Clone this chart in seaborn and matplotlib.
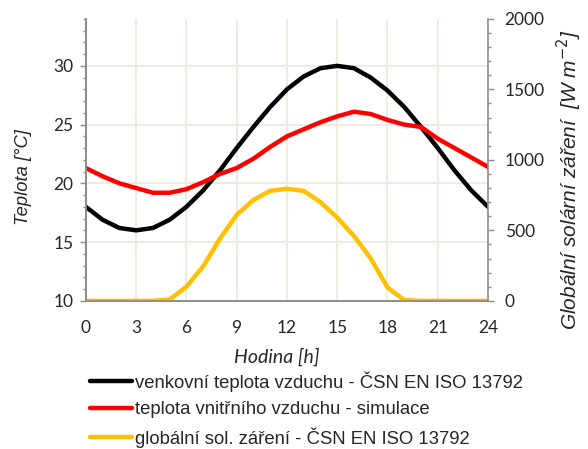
import matplotlib
matplotlib.use("Agg")
import matplotlib.pyplot as plt
from matplotlib.ticker import MultipleLocator
import pandas as pd
import seaborn as sns

# hourly values
hours = list(range(25))
outdoor_temp = [18.0, 16.9, 16.2, 16.0, 16.2, 16.9, 18.0, 19.4, 21.1, 23.0, 24.8, 26.5, 28.0,
                29.1, 29.8, 30.0, 29.8, 29.0, 27.9, 26.5, 24.8, 23.0, 21.1, 19.4, 18.0]
indoor_temp = [21.3, 20.6, 20.0, 19.6, 19.2, 19.2, 19.5, 20.1, 20.8, 21.3, 22.1, 23.1, 24.0,
               24.6, 25.2, 25.7, 26.1, 25.9, 25.4, 25.0, 24.8, 23.8, 23.0, 22.2, 21.4]
solar_rad = [0, 0, 0, 0, 0, 10, 100, 245, 440, 610, 715, 780, 795,
             780, 700, 590, 460, 300, 95, 5, 0, 0, 0, 0, 0]

series_labels = [
    "venkovní teplota vzduchu - ČSN EN ISO 13792",
    "teplota vnitřního vzduchu - simulace",
    "globální sol. záření - ČSN EN ISO 13792",
]
series_colors = ["#000000", "#FF0000", "#FFC000"]

x_ticks = list(range(0, 25, 3))
temp_ticks = [10, 15, 20, 25, 30]
rad_ticks = [0, 500, 1000, 1500, 2000]

df = pd.DataFrame({
    "hodina": hours,
    "venkovni": outdoor_temp,
    "vnitrni": indoor_temp,
    "zareni": solar_rad,
})

sns.set_style("white")
plt.rcParams["font.family"] = ["Liberation Sans", "DejaVu Sans"]

grid_color = "#EEECE1"
spine_color = "#8C8C8C"
text_color = "#262626"

fig = plt.figure(figsize=(5.88, 4.49), dpi=100)
ax = fig.add_axes([0.146, 0.330, 0.684, 0.628])
ax2 = ax.twinx()

line_kw = dict(lw=3.2, legend=False, solid_joinstyle="round", solid_capstyle="round")
sns.lineplot(data=df, x="hodina", y="venkovni", ax=ax, color=series_colors[0], **line_kw)
sns.lineplot(data=df, x="hodina", y="vnitrni", ax=ax, color=series_colors[1], **line_kw)
sns.lineplot(data=df, x="hodina", y="zareni", ax=ax2, color=series_colors[2], **line_kw)

ax.set_xlim(0, 24)
ax.set_ylim(10, 34)
ax2.set_ylim(0, 2000)
ax.set_xticks(x_ticks)
ax.set_yticks(temp_ticks)
ax2.set_yticks(rad_ticks)
ax.yaxis.set_minor_locator(MultipleLocator(1))
ax2.yaxis.set_minor_locator(MultipleLocator(100))

ax.grid(True, color=grid_color, lw=1.5)
ax.set_axisbelow(True)
ax2.grid(False)

for a in (ax, ax2):
    a.spines["top"].set_visible(False)
    for s in ("left", "right", "bottom"):
        a.spines[s].set_color(spine_color)
        a.spines[s].set_linewidth(1.2)
ax.spines["right"].set_visible(False)

ax.tick_params(axis="both", which="major", direction="out", length=4, width=1,
               color=spine_color, labelcolor=text_color)
ax.tick_params(axis="y", which="minor", direction="out", length=2.5, width=1, color=spine_color, left=True)
ax.tick_params(axis="x", pad=10)
ax.tick_params(axis="y", pad=5)
ax2.tick_params(axis="y", which="major", direction="out", length=4, width=1,
                color=spine_color, labelcolor=text_color, pad=8)
ax2.tick_params(axis="y", which="minor", direction="out", length=2.5, width=1, color=spine_color, right=True)
for lab in ax.get_xticklabels() + ax.get_yticklabels() + ax2.get_yticklabels():
    lab.set_fontfamily("Lato")
    lab.set_fontsize(12.5)

ax.set_xlabel("Hodina [h]", fontstyle="italic", fontsize=14, color=text_color, family="Lato")
ax.xaxis.set_label_coords(0.475, -0.165)
ax.set_ylabel("Teplota [°C]", fontstyle="italic", fontsize=13.2, color=text_color)
ax.yaxis.set_label_coords(-0.135, 0.44)
ax2.set_ylabel("Globální solární záření  [W m$^{-2}$]", fontstyle="italic", fontsize=15,
               color=text_color)
ax2.yaxis.set_label_coords(1.165, 0.43)

handles = ax.get_lines()[:2] + ax2.get_lines()[:1]
fig.legend(handles, series_labels, loc="upper left", bbox_to_anchor=(0.153, 0.173),
           frameon=False, fontsize=13.3, handlelength=2.27, handletextpad=0.15,
           labelspacing=0.5, borderaxespad=0, borderpad=0, labelcolor=text_color)

fig.savefig("out.png", dpi=100)
